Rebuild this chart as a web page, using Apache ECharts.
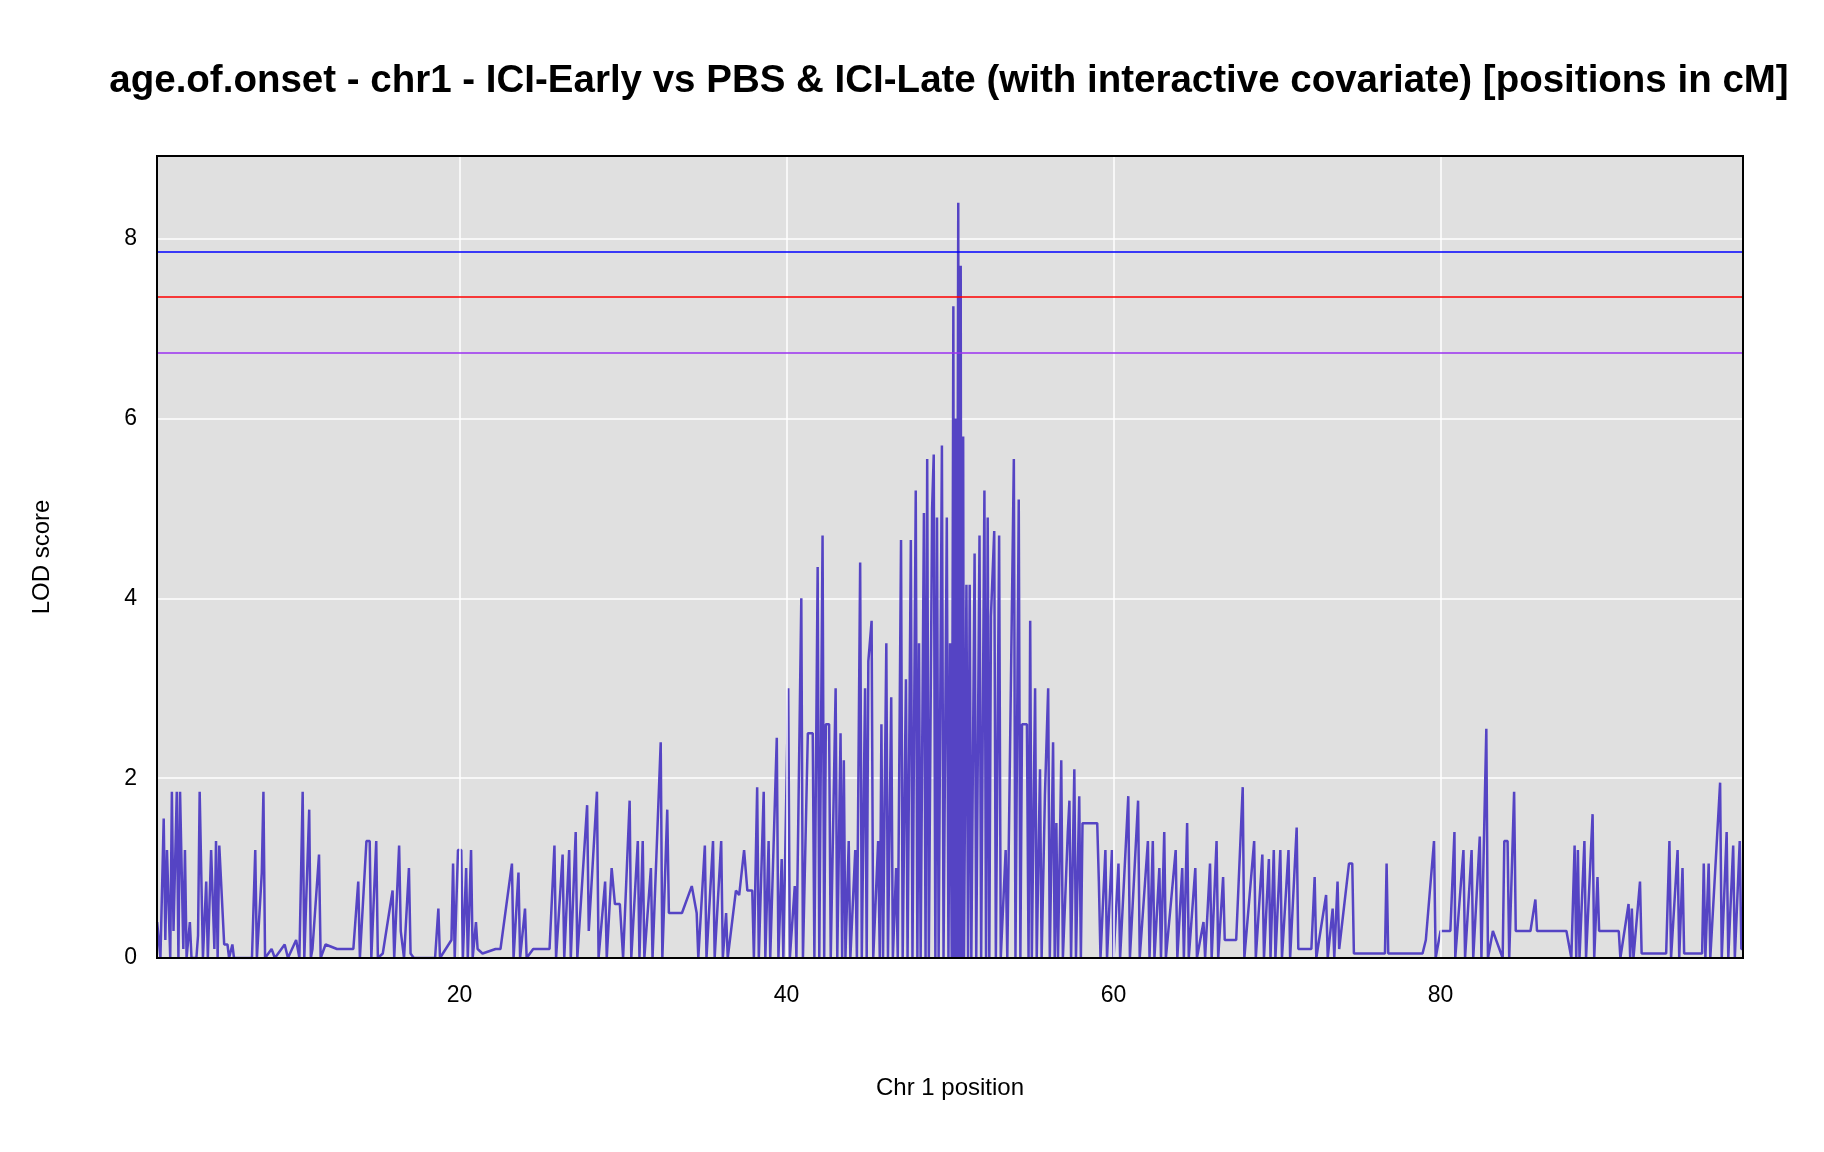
<!DOCTYPE html><html><head><meta charset="utf-8">
<script src="https://cdn.jsdelivr.net/npm/echarts@6/dist/echarts.min.js"></script>
<style>html,body{margin:0;background:#fff}#c{width:1824px;height:1152px}</style></head><body><div id="c"></div>
<script>
const titleText = "age.of.onset - chr1 - ICI-Early vs PBS & ICI-Late (with interactive covariate) [positions in cM]";
// [position cM, LOD]
const scanPoints = [
[1.5,0.4],[1.7,0],[1.9,1.55],[2.0,0.2],[2.1,1.2],[2.3,0],[2.4,1.85],[2.5,0.3],[2.7,1.85],[2.8,0],[2.9,1.85],[3.1,0.1],[3.2,1.2],[3.3,0],[3.5,0.4],[3.6,0],
[3.9,0],[4.0,0.25],[4.1,1.85],[4.3,0],[4.5,0.85],[4.6,0],[4.8,1.2],[5.0,0.1],[5.1,1.3],[5.2,0],[5.3,1.25],[5.6,0.15],[5.8,0.15],[5.9,0],[6.1,0.15],[6.2,0],
[7.3,0],[7.5,1.2],[7.6,0],[7.9,0.95],[8.0,1.85],[8.1,0],[8.5,0.1],[8.7,0],[9.3,0.15],[9.5,0],[10.0,0.2],[10.2,0],
[10.4,1.85],[10.5,0],[10.8,1.65],[10.9,0],[11.0,0.1],[11.4,1.15],[11.5,0],[11.8,0.15],[12.5,0.1],[13.5,0.1],[13.8,0.85],[13.9,0],
[14.3,1.3],[14.5,1.3],[14.6,0],[14.9,1.3],[15.0,0],[15.3,0.05],[15.9,0.75],[16.0,0],[16.3,1.25],[16.4,0.3],[16.6,0],[16.9,1.0],[17.0,0.05],[17.2,0],
[18.5,0],[18.7,0.55],[18.8,0],[19.5,0.2],[19.6,1.05],[19.7,0],[19.9,1.2],[20.1,1.2],[20.2,0],[20.4,1.0],[20.5,0],[20.7,1.2],[20.8,0],[21.0,0.4],[21.1,0.1],[21.4,0.05],
[22.2,0.1],[22.5,0.1],[23.2,1.05],[23.3,0],[23.6,0.95],[23.7,0],[24.0,0.55],[24.1,0],[24.5,0.1],[25.5,0.1],
[25.8,1.25],[25.9,0],[26.3,1.15],[26.4,0],[26.7,1.2],[26.8,0],[27.1,1.4],[27.2,0],[27.8,1.7],[27.9,0.3],[28.4,1.85],[28.5,0],[28.9,0.85],[29.0,0],[29.3,1.0],[29.5,0.6],[29.8,0.6],[30.0,0],
[30.4,1.75],[30.5,0],[30.9,1.3],[31.0,0],[31.2,1.3],[31.3,0],[31.7,1.0],[31.8,0],[32.3,2.4],[32.4,0],[32.7,1.65],[32.8,0.5],[33.2,0.5],[33.6,0.5],[34.2,0.8],[34.5,0.5],[34.6,0],
[35.0,1.25],[35.1,0],[35.5,1.3],[35.6,0],[36.0,1.3],[36.1,0],[36.3,0.5],[36.4,0],[36.9,0.75],[37.1,0.7],[37.4,1.2],[37.6,0.75],[37.9,0.75],[38.0,0],
[38.2,1.9],[38.3,0],[38.6,1.85],[38.7,0],[38.9,1.3],[39.0,0],[39.4,2.45],[39.5,0],[39.7,1.1],[39.8,0],[40.1,3.0],[40.2,0],[40.5,0.8],[40.6,0],[40.9,4.0],[41.0,0],
[41.3,2.5],[41.6,2.5],[41.7,0],[41.9,4.35],[42.0,0],[42.2,4.7],[42.3,0],[42.4,2.6],[42.6,2.6],[42.7,0],[43.0,3.0],[43.1,0],[43.3,2.5],[43.4,0],[43.5,2.2],[43.6,0],
[43.8,1.3],[43.9,0],[44.2,1.2],[44.3,0],[44.5,4.4],[44.6,0],[44.8,3.0],[44.9,0],[45.0,3.3],[45.2,3.75],[45.3,0],[45.6,1.3],[45.7,0],[45.8,2.6],[45.9,0],
[46.1,3.5],[46.2,0],[46.4,2.9],[46.5,0],[46.7,1.0],[46.8,0],[47.0,4.65],[47.1,0],[47.3,3.1],[47.4,0],[47.6,4.65],[47.7,0],[47.9,5.2],[48.0,0],
[48.1,3.5],[48.2,0],[48.4,4.95],[48.5,0],[48.6,5.55],[48.7,0],[48.9,5.0],[49.0,5.6],[49.1,0],[49.2,4.9],[49.3,0],[49.5,5.7],[49.6,0],[49.8,4.9],[49.9,0],
[50.0,3.5],[50.1,0],[50.2,7.25],[50.25,0],[50.35,6.0],[50.4,0],[50.5,8.4],[50.55,0],[50.65,7.7],[50.7,0],[50.8,5.8],[50.85,0],[51.0,4.15],[51.1,0],[51.2,4.15],[51.3,0],
[51.5,4.5],[51.6,0],[51.8,4.7],[51.9,0],[52.1,5.2],[52.2,0],[52.3,4.9],[52.4,0],[52.5,3.8],[52.7,4.75],[52.8,0],[53.0,4.7],[53.1,0],[53.4,1.2],[53.5,0],
[53.9,5.55],[54.0,0],[54.2,5.1],[54.3,0],[54.4,2.6],[54.7,2.6],[54.8,0],[54.9,3.75],[55.0,0],[55.2,3.0],[55.3,0],[55.5,2.1],[55.6,0],[55.8,1.8],[56.0,3.0],[56.1,0],
[56.3,2.4],[56.4,0],[56.5,1.5],[56.6,0],[56.8,2.2],[56.9,0],[57.2,1.4],[57.3,1.75],[57.4,0],[57.6,2.1],[57.7,0],[57.9,1.8],[58.0,0],
[58.1,1.5],[59.0,1.5],[59.1,0.85],[59.2,0],[59.5,1.2],[59.6,0],[59.9,1.2],[60.0,0],[60.3,1.05],[60.4,0],[60.9,1.8],[61.0,0],[61.5,1.75],[61.6,0],
[62.1,1.3],[62.2,0],[62.4,1.3],[62.5,0],[62.8,1.0],[62.9,0],[63.1,1.4],[63.2,0],[63.8,1.2],[63.9,0],[64.2,1.0],[64.3,0],[64.5,1.5],[64.6,0],[65.0,1.0],[65.1,0],
[65.5,0.4],[65.6,0],[65.9,1.05],[66.0,0],[66.3,1.3],[66.4,0],[66.7,0.9],[66.8,0.2],[67.5,0.2],[67.9,1.9],[68.0,0],[68.6,1.3],[68.7,0],[69.1,1.15],[69.2,0],
[69.5,1.1],[69.6,0],[69.8,1.2],[69.9,0],[70.2,1.2],[70.3,0],[70.7,1.2],[70.8,0],[71.2,1.45],[71.3,0.1],[72.1,0.1],[72.3,0.9],[72.4,0],[73.0,0.7],[73.1,0],[73.4,0.55],[73.5,0],
[73.7,0.85],[73.8,0.1],[74.4,1.05],[74.6,1.05],[74.7,0.05],[76.0,0.05],[76.6,0.05],[76.7,1.05],[76.8,0.05],[78.9,0.05],[79.1,0.2],
[79.6,1.3],[79.7,0],[80.0,0.3],[80.6,0.3],[80.85,1.4],[80.9,0],[81.4,1.2],[81.5,0],[81.9,1.2],[82.0,0],[82.4,1.35],[82.5,0],[82.8,2.55],[82.9,0],[83.2,0.3],[83.8,0],
[83.9,1.3],[84.1,1.3],[84.2,0],[84.5,1.85],[84.6,0.3],[85.5,0.3],[85.8,0.65],[85.9,0.3],[87.7,0.3],[88.0,0],
[88.2,1.25],[88.3,0],[88.4,1.2],[88.5,0],[88.8,1.3],[88.9,0],[89.3,1.6],[89.4,0],[89.6,0.9],[89.7,0.3],[90.9,0.3],[91.0,0],
[91.5,0.6],[91.6,0],[91.7,0.55],[91.8,0],[92.2,0.85],[92.3,0.05],[93.8,0.05],[94.0,1.3],[94.1,0],[94.5,1.2],[94.6,0],[94.8,1.0],[94.9,0.05],
[96.0,0.05],[96.1,1.05],[96.2,0],[96.4,1.05],[96.5,0],[97.1,1.95],[97.2,0],[97.5,1.4],[97.6,0],[97.9,1.25],[98.0,0],[98.3,1.3],[98.4,0.1],[98.5,0.1]
];
const xTicks = [20,40,60,80];
const thresholds = [7.86, 7.35, 6.73];
const thresholdColors = ['#0000ff','#ff0000','#9b30f0'];
const chart = echarts.init(document.getElementById('c'));
chart.setOption({
  animation:false,
  title:{text:titleText,left:944,textAlign:'center',top:57,textStyle:{fontFamily:'Liberation Sans',fontWeight:'bold',fontSize:38.5,color:'#000'}},
  grid:{left:157,right:81,top:156,bottom:194,show:true,backgroundColor:'#e0e0e0',borderColor:'transparent'},
  xAxis:{type:'value',min:1.49,max:98.5,name:'Chr 1 position',nameLocation:'middle',nameGap:118,
    nameTextStyle:{fontFamily:'Liberation Sans',fontSize:24,color:'#000'},
    axisLine:{show:false},axisTick:{show:false},
    axisLabel:{fontFamily:'Liberation Sans',fontSize:23,color:'#000',margin:26,customValues:xTicks},
    splitLine:{show:false}},
  yAxis:{type:'value',min:0,max:8.92,interval:2,name:'LOD score',nameLocation:'middle',nameGap:103,
    nameTextStyle:{fontFamily:'Liberation Sans',fontSize:24,color:'#000'},
    axisLine:{show:false},axisTick:{show:false},
    axisLabel:{fontFamily:'Liberation Sans',fontSize:23,color:'#000',margin:20,showMaxLabel:false},
    splitLine:{show:true,lineStyle:{color:'#fff',width:1.5}}},
  series:[
    {type:'line',data:[],z:1,markLine:{silent:true,symbol:'none',label:{show:false},
      data:xTicks.map(v=>({xAxis:v,lineStyle:{color:'#fff',width:1.5,type:'solid'}}))}},
    {type:'line',data:scanPoints,showSymbol:false,lineStyle:{color:'#5544c4',width:2.5},z:3,
    markLine:{silent:true,symbol:'none',label:{show:false},
      data:thresholds.map((t,i)=>({yAxis:t,lineStyle:{color:thresholdColors[i],width:1.5,type:'solid'}}))}}],
  graphic:[{type:'rect',z:100,shape:{x:157,y:156,width:1824-157-81,height:1152-156-194},style:{fill:'none',stroke:'#000',lineWidth:2}}]
});
</script></body></html>
